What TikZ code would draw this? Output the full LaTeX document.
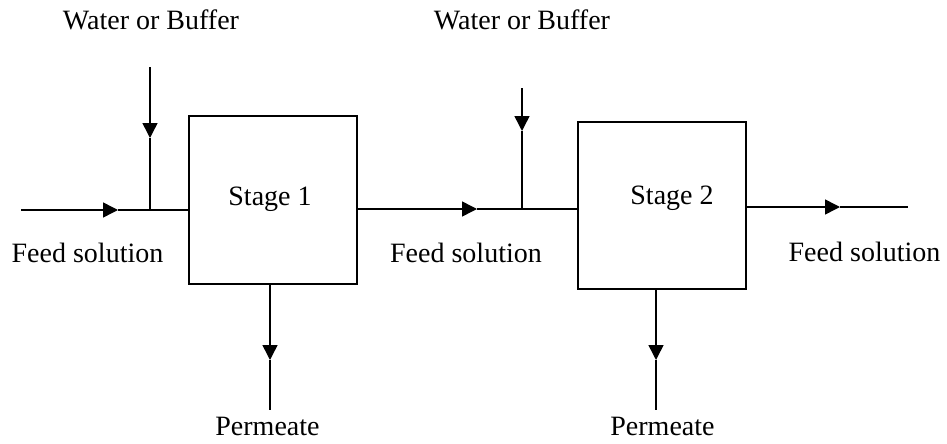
\documentclass[tikz,border=0pt]{standalone}
\usepackage{fontspec}
\setmainfont{Liberation Serif}
\usetikzlibrary{arrows.meta}
\begin{document}
\begin{tikzpicture}[x=1pt,y=-1pt,
  flow/.style={line width=1.5pt},
  tipflow/.style={line width=1.5pt,-{Triangle[length=15pt,width=15pt]}},
  stagebox/.style={draw,line width=1.8pt,minimum width=168pt,minimum height=168pt,inner sep=0pt},
  lbl/.style={font=\fontsize{28}{32}\selectfont,inner sep=0pt,anchor=base}]
\useasboundingbox (0,0) rectangle (947,444);
% boxes
\node[stagebox] (s1) at (273,200) {};
\node[stagebox,minimum height=167pt] (s2) at (662,205.5) {};
\node[lbl] (t1) at (270,205) {Stage 1};
\node[lbl] (t2) at (672,204) {Stage 2};
% coordinates
\coordinate (f1a) at (21,210);
\coordinate (f1t) at (118,210);
\coordinate (j1) at (150,210);
\coordinate (w1a) at (150,67);
\coordinate (w1t) at (150,138);
\coordinate (f2a) at (357,209);
\coordinate (f2t) at (477,209);
\coordinate (j2) at (522,209);
\coordinate (w2a) at (522,88);
\coordinate (w2t) at (522,131);
\coordinate (f3t) at (840,207);
\coordinate (f3b) at (908,207);
\coordinate (p1t) at (270,360);
\coordinate (p1b) at (270,410);
\coordinate (p2t) at (656,360);
\coordinate (p2b) at (656,410);
% feed 1
\draw[tipflow] (f1a) -- (f1t);
\draw[flow] (f1t) -- (s1.west |- f1t);
\draw[tipflow] (w1a) -- (w1t);
\draw[flow] (w1t) -- (j1);
% feed 2
\draw[tipflow] (s1.east |- f2a) -- (f2t);
\draw[flow] (f2t) -- (s2.west |- f2t);
\draw[tipflow] (w2a) -- (w2t);
\draw[flow] (w2t) -- (j2);
% feed 3
\draw[tipflow] (s2.east |- f3t) -- (f3t);
\draw[flow] (f3t) -- (f3b);
% permeates
\draw[tipflow] (s1.south -| p1t) -- (p1t);
\draw[flow] (p1t) -- (p1b);
\draw[tipflow] (s2.south -| p2t) -- (p2t);
\draw[flow] (p2t) -- (p2b);
% labels
\node[lbl] (lw1) at (151,30) {Water or Buffer};
\node[lbl] (lw2) at (522,30) {Water or Buffer};
\node[lbl] (lf1) at (87.5,262) {Feed solution};
\node[lbl] (lf2) at (466,262) {Feed solution};
\node[lbl] (lf3) at (864.5,261) {Feed solution};
\node[lbl] (lp1) at (267.5,435) {Permeate};
\node[lbl] (lp2) at (662.5,435) {Permeate};
\end{tikzpicture}
\end{document}
